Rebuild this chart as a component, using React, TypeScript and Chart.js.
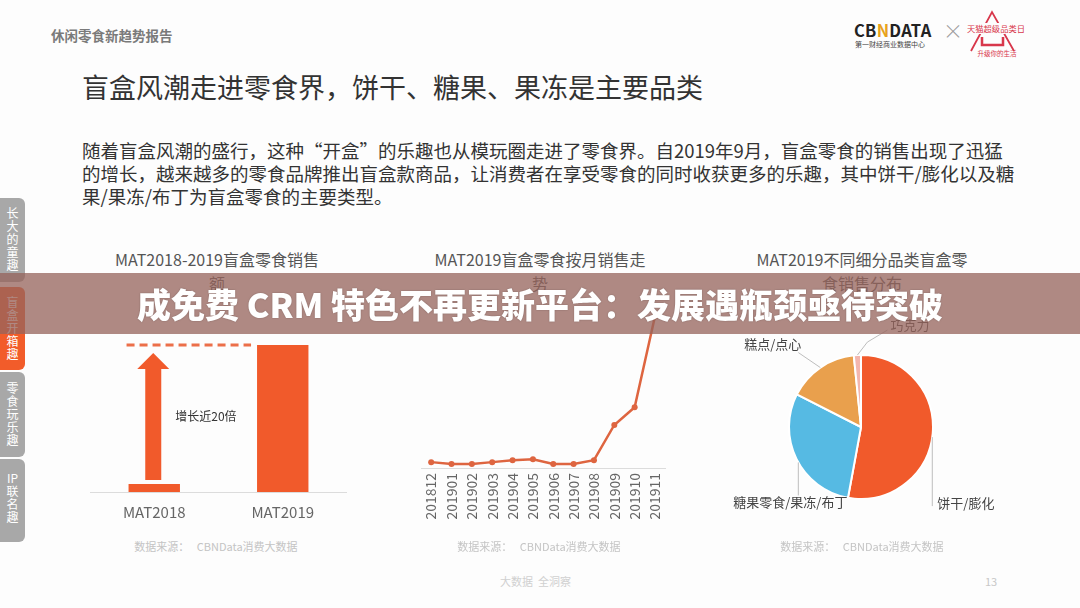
import React, { useEffect, useRef } from 'react';
import { Chart, registerables } from 'chart.js';

Chart.register(...registerables);

const FONT = '"Noto Sans CJK SC", "Noto Sans", sans-serif';

// ---- Chart 1: MAT2018-2019 sales ----
const salesCategories = ['MAT2018', 'MAT2019'];
const salesValues = [1.1, 20];
const growthNote = '增长近20倍';

// ---- Chart 2: monthly trend ----
const monthLabels = ['201812', '201901', '201902', '201903', '201904', '201905', '201906', '201907', '201908', '201909', '201910', '201911'];
const monthValues = [6, 4, 4, 6, 8, 9, 4, 4, 8, 44, 62, 155];

// ---- Chart 3: category share ----
const pieLabels = ['饼干/膨化', '糖果零食/果冻/布丁', '糕点/点心', '巧克力'];
const pieValues = [52.9, 29.6, 15.9, 1.6];
const pieColors = ['#f15a2b', '#56bae3', '#e9a04d', '#f3b6ae'];

// label leader layout (styling): t = fraction along slice, path offsets, text offset
const pieLabelLayout = [
  { t: 0.515, path: [[0, 69]], text: [5, 66], align: 'left' },
  { t: 0.47, path: [[0, 33]], text: [-8, 40], align: 'center' },
  { t: 0.5, path: [[-22, -15]], text: [-19, -24], align: 'right' },
  { t: 0.5, path: [[10, -13], [30, -25]], text: [33, -30], align: 'left' },
];

const abs = (left: number, top: number, extra: any = {}) => ({ position: 'absolute' as const, left, top, ...extra });

function BarChart() {
  const ref = useRef<HTMLCanvasElement>(null);
  useEffect(() => {
    const arrowPlugin = {
      id: 'arrowNote',
      afterDatasetsDraw(chart: any) {
        const meta = chart.getDatasetMeta(0);
        const b0 = meta.data[0];
        const b1 = meta.data[1];
        const ys = chart.scales.y;
        const ctx = chart.ctx;
        const topY = ys.getPixelForValue(salesValues[1]);
        ctx.save();
        ctx.strokeStyle = '#ec6f49';
        ctx.lineWidth = 3;
        ctx.setLineDash([8, 5]);
        ctx.beginPath();
        ctx.moveTo(b0.x - b0.width / 2 - 2, topY);
        ctx.lineTo(b1.x - b1.width / 2 - 6, topY);
        ctx.stroke();
        ctx.setLineDash([]);
        const ax = b0.x - 1;
        const bottom = b0.y - 4;
        const tip = topY + 8;
        const headH = 16;
        ctx.fillStyle = '#f15a2b';
        ctx.beginPath();
        ctx.moveTo(ax - 8, bottom);
        ctx.lineTo(ax - 8, tip + headH);
        ctx.lineTo(ax - 16, tip + headH);
        ctx.lineTo(ax, tip);
        ctx.lineTo(ax + 16, tip + headH);
        ctx.lineTo(ax + 8, tip + headH);
        ctx.lineTo(ax + 8, bottom);
        ctx.closePath();
        ctx.fill();
        ctx.fillStyle = '#333';
        ctx.font = `12px ${FONT}`;
        ctx.textAlign = 'left';
        ctx.textBaseline = 'middle';
        ctx.fillText(growthNote, ax + 22, (bottom + tip) / 2);
        ctx.restore();
      },
    };
    const chart = new Chart(ref.current!, {
      type: 'bar',
      data: {
        labels: salesCategories,
        datasets: [{ data: salesValues, backgroundColor: '#f15a2b', barPercentage: 1, categoryPercentage: 0.4 }],
      },
      options: {
        animation: false,
        responsive: false,
        layout: { padding: { top: 15, left: 0, right: 0, bottom: 0 } },
        plugins: { legend: { display: false }, tooltip: { enabled: false } },
        scales: {
          x: {
            grid: { display: false, drawTicks: false },
            border: { display: true, color: '#dcdcdc', width: 1 },
            ticks: { color: '#666', font: { family: FONT, size: 15 }, padding: 11 },
            afterFit: (s: any) => { s.height = 38; },
          },
          y: { display: false, min: 0, max: 20 },
        },
      },
      plugins: [arrowPlugin],
    });
    return () => chart.destroy();
  }, []);
  return <canvas ref={ref} width={257} height={200} style={abs(90, 330, { width: 257, height: 200 })} />;
}

function LineChart() {
  const ref = useRef<HTMLCanvasElement>(null);
  useEffect(() => {
    const chart = new Chart(ref.current!, {
      type: 'line',
      data: {
        labels: monthLabels,
        datasets: [{
          data: monthValues,
          borderColor: '#de6540',
          backgroundColor: '#de6540',
          borderWidth: 2.5,
          pointRadius: 3,
          pointBackgroundColor: '#de6540',
          pointBorderWidth: 0,
          tension: 0,
        }],
      },
      options: {
        animation: false,
        responsive: false,
        layout: { padding: { top: 0, left: 6, right: 5, bottom: 0 } },
        plugins: { legend: { display: false }, tooltip: { enabled: false } },
        scales: {
          x: {
            offset: true,
            grid: { display: false, drawTicks: false },
            border: { display: true, color: '#dcdcdc', width: 1 },
            ticks: { color: '#666', font: { family: FONT, size: 14 }, padding: 5, minRotation: 90, maxRotation: 90, autoSkip: false },
            afterFit: (s: any) => { s.height = 60; },
          },
          y: { display: false, min: 0, max: 188 },
        },
      },
    });
    return () => chart.destroy();
  }, []);
  return <canvas ref={ref} width={262} height={248} style={abs(415, 280, { width: 262, height: 248 })} />;
}

function PieChart() {
  const ref = useRef<HTMLCanvasElement>(null);
  useEffect(() => {
    const labelPlugin = {
      id: 'pieLabels',
      afterDatasetsDraw(chart: any) {
        const meta = chart.getDatasetMeta(0);
        const ctx = chart.ctx;
        ctx.save();
        ctx.font = `13px ${FONT}`;
        ctx.textBaseline = 'middle';
        meta.data.forEach((arc: any, i: number) => {
          const lay = pieLabelLayout[i];
          const a = arc.startAngle + lay.t * (arc.endAngle - arc.startAngle);
          const sx = arc.x + Math.cos(a) * arc.outerRadius;
          const sy = arc.y + Math.sin(a) * arc.outerRadius;
          ctx.strokeStyle = '#bdbdbd';
          ctx.lineWidth = 1;
          ctx.beginPath();
          ctx.moveTo(sx, sy);
          lay.path.forEach((p) => ctx.lineTo(sx + p[0], sy + p[1]));
          ctx.stroke();
          ctx.fillStyle = '#444';
          ctx.textAlign = lay.align as CanvasTextAlign;
          ctx.fillText(pieLabels[i], sx + lay.text[0], sy + lay.text[1]);
        });
        ctx.restore();
      },
    };
    const chart = new Chart(ref.current!, {
      type: 'pie',
      data: {
        labels: pieLabels,
        datasets: [{ data: pieValues, backgroundColor: pieColors, borderColor: '#ffffff', borderWidth: 2 }],
      },
      options: {
        animation: false,
        responsive: false,
        layout: { padding: { left: 68, right: 86, top: 54, bottom: 40 } },
        plugins: { legend: { display: false }, tooltip: { enabled: false } },
      },
      plugins: [labelPlugin],
    });
    return () => chart.destroy();
  }, []);
  return <canvas ref={ref} width={300} height={240} style={abs(720, 300, { width: 300, height: 240 })} />;
}

function Tab({ top, height, color, chars, textTop }: any) {
  return (
    <div style={abs(0, top, { width: 25, height, background: color, borderRadius: '0 6px 6px 0' })}>
      <div style={{ position: 'absolute', top: textTop, left: 0, width: 25, textAlign: 'center', color: '#fff', fontSize: 12, lineHeight: '13px' }}>
        {chars.map((c: string, i: number) => <div key={i}>{c}</div>)}
      </div>
    </div>
  );
}

function ChartTitle({ cx, lines }: { cx: number; lines: string[] }) {
  return (
    <>
      {lines.map((l, i) => (
        <div key={i} style={abs(cx - 150, 247 + i * 24, { width: 300, textAlign: 'center', fontSize: 16, lineHeight: '24px', color: '#555', whiteSpace: 'nowrap' })}>{l}</div>
      ))}
    </>
  );
}

function Source({ cx }: { cx: number }) {
  return (
    <div style={abs(cx - 100, 538, { width: 200, textAlign: 'center', fontSize: 11, lineHeight: '16px', color: '#c4c4c4', whiteSpace: 'pre' })}>{'数据来源：   CBNData消费大数据'}</div>
  );
}

export default function App() {
  return (
    <div style={{ position: 'fixed', left: 0, top: 0, width: 1080, height: 608, background: '#fdfdfd', overflow: 'hidden', fontFamily: FONT }}>
      <div style={abs(51, 26, { fontSize: 13.5, fontWeight: 'bold', color: '#7a7a7a', lineHeight: '18px' })}>休闲零食新趋势报告</div>

      {/* logos */}
      <div style={abs(854, 19, { fontSize: 16.5, fontWeight: 'bold', color: '#222', letterSpacing: 0.3, lineHeight: '22px' })}>
        CB<span style={{ color: '#e8a21c' }}>N</span>DATA
      </div>
      <div style={abs(855, 40, { fontSize: 7, color: '#444', lineHeight: '9px', whiteSpace: 'nowrap' })}>第一财经商业数据中心</div>
      <div style={abs(943, 18, { fontSize: 20, color: '#999', fontWeight: 300, lineHeight: '26px' })}>×</div>
      <svg style={abs(964, 8, { width: 66, height: 52 })} width={66} height={52}>
        <polyline points="7,43 28,4 50,43" fill="none" stroke="#d8374b" strokeWidth={1.8} />
        <rect x={3} y={15} width={60} height={11} fill="#fdfdfd" />
        <text x={32} y={24} textAnchor="middle" fontSize={8.3} fill="#d8374b" fontFamily={FONT}>天猫超级品类日</text>
        <polyline points="18,29 18,37 39,37 39,29" fill="none" stroke="#d8374b" strokeWidth={2.5} />
        <text x={33} y={48} textAnchor="middle" fontSize={6.5} fill="#d8374b" fontFamily={FONT}>升级你的生活</text>
      </svg>

      <div style={abs(82, 69, { fontSize: 27, lineHeight: '36px', color: '#333', whiteSpace: 'nowrap' })}>盲盒风潮走进零食界，饼干、糖果、果冻是主要品类</div>

      <div style={abs(82, 138.5, { fontSize: 18.5, lineHeight: '23px', color: '#333', whiteSpace: 'nowrap' })}>
        <div>随着盲盒风潮的盛行，这种“开盒”的乐趣也从模玩圈走进了零食界。自2019年9月，盲盒零食的销售出现了迅猛</div>
        <div>的增长，越来越多的零食品牌推出盲盒款商品，让消费者在享受零食的同时收获更多的乐趣，其中饼干/膨化以及糖</div>
        <div>果/果冻/布丁为盲盒零食的主要类型。</div>
      </div>

      <Tab top={198} height={84} color="#a8a8a8" chars={['长', '大', '的', '童', '趣']} textTop={8} />
      <Tab top={287} height={83} color="#f25c2a" chars={['盲', '盒', '开', '箱', '趣']} textTop={8} />
      <Tab top={372} height={85} color="#a8a8a8" chars={['零', '食', '玩', '乐', '趣']} textTop={9} />
      <Tab top={459} height={83} color="#a8a8a8" chars={['IP', '联', '名', '趣']} textTop={12} />

      <ChartTitle cx={217} lines={['MAT2018-2019盲盒零食销售', '额']} />
      <ChartTitle cx={540} lines={['MAT2019盲盒零食按月销售走', '势']} />
      <ChartTitle cx={862} lines={['MAT2019不同细分品类盲盒零', '食销售分布']} />

      <BarChart />
      <LineChart />
      <PieChart />

      <Source cx={216} />
      <Source cx={539} />
      <Source cx={862} />

      <div style={abs(500, 573, { fontSize: 11, color: '#d0d0d0', lineHeight: '16px', whiteSpace: 'pre' })}>{'大数据  全洞察'}</div>
      <div style={abs(985, 573, { fontSize: 11, color: '#c8c8c8', lineHeight: '16px' })}>13</div>

      <div style={abs(0, 273, { width: 1080, height: 61, background: 'rgba(150,100,92,0.76)', zIndex: 10, display: 'flex', alignItems: 'center', justifyContent: 'center' })}>
        <div style={{ color: '#fff', fontSize: 34, fontWeight: 900, lineHeight: '40px', whiteSpace: 'pre', textShadow: '0 0 2px rgba(0,0,0,0.25)' }}>成免费 CRM 特色不再更新平台：发展遇瓶颈亟待突破</div>
      </div>
    </div>
  );
}
